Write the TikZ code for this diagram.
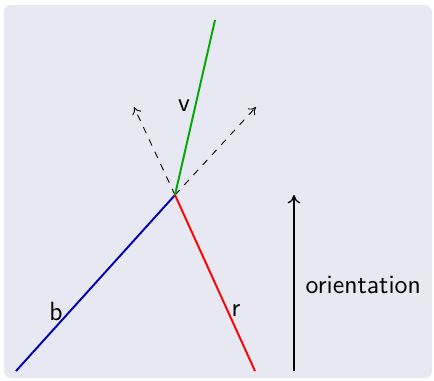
\documentclass[tikz,border=0pt]{standalone}
\usetikzlibrary{arrows.meta,positioning}
\definecolor{panelbg}{HTML}{E8E8F2}
\definecolor{lineblue}{HTML}{0000B4}
\definecolor{linered}{HTML}{FF0000}
\definecolor{linegreen}{HTML}{00AA00}

\begin{document}
\begin{tikzpicture}[
  x=0.44pt,y=-0.44pt,
  ray/.style={line width=0.85pt},
  guide/.style={dashed,line width=0.4pt,-{To[length=1.1mm,width=1.5mm]}},
  tag/.style={font=\sffamily\fontsize{11.6}{14}\selectfont,inner sep=1pt}
]
\useasboundingbox (0,0) rectangle (434,380);
\fill[panelbg,rounded corners=3pt] (4,5) rectangle (432,378);
% meeting point and ends
\coordinate (c) at (175,195);
\coordinate (bend) at (16,371);
\coordinate (rend) at (255,371);
\coordinate (vend) at (215,20);
\coordinate (gl) at (134,107);
\coordinate (gr) at (256,107);
\coordinate (ofoot) at (294,371);
\coordinate (otop) at (294,195);
\draw[guide] (c) -- (gl);
\draw[guide] (c) -- (gr);
\draw[ray,lineblue] (c) -- (bend);
\draw[ray,linered] (c) -- (rend);
\draw[ray,linegreen] (c) -- (vend);
\draw[line width=0.6pt,-{To[length=1.3mm,width=2mm]}] (ofoot) -- (otop);
% labels
\node[tag] (b) at (56,311) {b};
\node[tag] (r) at (236,311) {r};
\node[tag] (v) at (184,106) {v};
\node[tag,anchor=west] (orient) at (303,285) {orientation};
\end{tikzpicture}
\end{document}
